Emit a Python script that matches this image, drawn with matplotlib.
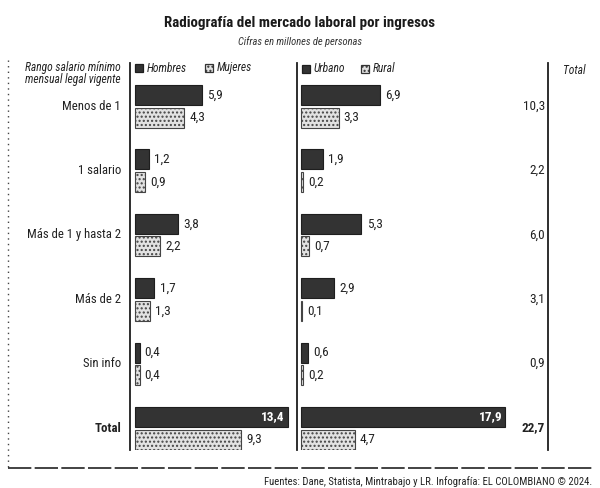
import matplotlib
matplotlib.use("Agg")
import matplotlib.pyplot as plt
from matplotlib.lines import Line2D
from matplotlib.patches import Rectangle
import matplotlib.transforms as mtransforms
from matplotlib import font_manager

# ---- data ----
categories = ["Menos de 1", "1 salario", "Más de 1 y hasta 2", "Más de 2", "Sin info", "Total"]
hombres = [5.9, 1.2, 3.8, 1.7, 0.4, 13.4]
mujeres = [4.3, 0.9, 2.2, 1.3, 0.4, 9.3]
urbano = [6.9, 1.9, 5.3, 2.9, 0.6, 17.9]
rural = [3.3, 0.2, 0.7, 0.1, 0.2, 4.7]
total = [10.3, 2.2, 6.0, 3.1, 0.9, 22.7]

# ---- font choice (prefer a narrow face) ----
names = {f.name for f in font_manager.fontManager.ttflist}
stretch = "normal"
if "Liberation Sans Narrow" in names:
    fam = "Liberation Sans Narrow"
elif "Roboto Condensed" in names:
    fam = "Roboto Condensed"
elif any(f.name == "DejaVu Sans" and f.stretch in ("condensed", 700) for f in font_manager.fontManager.ttflist):
    fam = "DejaVu Sans"
    stretch = "condensed"
else:
    fam = "Roboto"
plt.rcParams['font.family'] = [fam, 'DejaVu Sans']
plt.rcParams['font.stretch'] = stretch


def fmt(v):
    return f"{v:.1f}".replace(".", ",")


W, H = 600, 488
fig = plt.figure(figsize=(6, 4.88), dpi=100)
fig.patch.set_facecolor("white")
renderer = fig.canvas.get_renderer()


def fx(px):
    return px / W


def fy(py):
    return 1 - py / H


def fit(t, target_px):
    t.set_fontsize(10)
    w = t.get_window_extent(renderer).width
    size = 10 * target_px / w
    t.set_fontsize(size)
    return size


top_px, bot_px = 63, 450
unit_y = 64.4
y0_px = 106
ylim = ((bot_px - y0_px) / unit_y, (top_px - y0_px) / unit_y)
scale_x = 11.4

ax1 = fig.add_axes([fx(130), fy(bot_px), fx(166), (bot_px - top_px) / H])
ax2 = fig.add_axes([fx(297), fy(bot_px), fx(251), (bot_px - top_px) / H])
ax1.set_xlim(-5 / scale_x, (296 - 135) / scale_x)
ax2.set_xlim(-4 / scale_x, (548 - 301) / scale_x)

dark = "#333333"
light = "#e2e2e2"
off1, off2, bh = -0.17, 0.18, 0.31
ypos = list(range(len(categories)))

# size for value labels: fit "10,3" to ~22 px
probe = fig.text(0, 0, "10,3")
val_size = fit(probe, 22)
probe.remove()

for ax, a, b in [(ax1, hombres, mujeres), (ax2, urbano, rural)]:
    ax.set_ylim(*ylim)
    ax.barh([y + off1 for y in ypos], a, height=bh, left=0, color=dark,
            edgecolor="#1e1e1e", linewidth=0.8)
    ax.barh([y + off2 for y in ypos], b, height=bh, left=0, color=light,
            edgecolor="#444444", hatch="....", linewidth=0.8)
    for i, (va, vb) in enumerate(zip(a, b)):
        if i == len(a) - 1:
            ax.text(va - 0.25, i + off1, fmt(va), ha="right", va="center",
                    fontsize=val_size, color="white", fontweight="bold")
        else:
            ax.text(va + 0.45, i + off1, fmt(va), ha="left", va="center",
                    fontsize=val_size, color="#222222")
        ax.text(vb + 0.45, i + off2, fmt(vb), ha="left", va="center",
                fontsize=val_size, color="#222222")
    ax.set_xticks([])
    ax.set_yticks([])
    for s in ["top", "bottom", "right"]:
        ax.spines[s].set_visible(False)
    ax.spines["left"].set_linewidth(1.3)
    ax.spines["left"].set_color("#1e1e1e")
    ax.patch.set_alpha(0)

ax2.spines["right"].set_visible(True)
ax2.spines["right"].set_linewidth(1.3)
ax2.spines["right"].set_color("#1e1e1e")

# category labels
probe = fig.text(0, 0, "Menos de 1")
cat_size = fit(probe, 58)
probe.remove()
trans_lab = mtransforms.blended_transform_factory(fig.transFigure, ax1.transData)
for i, c in enumerate(categories):
    ax1.text(fx(121), i, c, transform=trans_lab, ha="right", va="center",
             fontsize=cat_size, color="#222222",
             fontweight="bold" if c == "Total" else "normal")

# total column
trans_tot = mtransforms.blended_transform_factory(fig.transFigure, ax2.transData)
for i, v in enumerate(total):
    ax2.text(fx(545), i, fmt(v), transform=trans_tot, ha="right", va="center",
             fontsize=val_size, color="#222222",
             fontweight="bold" if i == len(total) - 1 else "normal")

# titles
t = fig.text(fx(300), fy(23), "Radiografía del mercado laboral por ingresos", ha="center",
             va="center", fontweight="bold", color="#1a1a1a")
fit(t, 272)
t = fig.text(fx(300), fy(42), "Cifras en millones de personas", ha="center", va="center",
             style="italic", color="#333333")
fit(t, 124)

# header row
t1 = fig.text(fx(25), fy(67), "Rango salario mínimo", ha="left", va="center",
              style="italic", color="#222222")
hs = fit(t1, 96)
fig.text(fx(25), fy(80), "mensual legal vigente", ha="left", va="center",
         style="italic", color="#222222", fontsize=hs)


def legend_item(x_px, y_px, label, fc, ec, hatch):
    r = Rectangle((fx(x_px), fy(y_px + 4)), fx(8), 8 / H, transform=fig.transFigure,
                  facecolor=fc, edgecolor=ec, hatch=hatch, linewidth=0.9)
    fig.add_artist(r)
    fig.text(fx(x_px + 12), fy(y_px), label, ha="left", va="center", fontsize=hs,
             style="italic", color="#222222")


legend_item(135, 68, "Hombres", dark, "#1e1e1e", None)
legend_item(205, 68, "Mujeres", light, "#333333", "....")
legend_item(302, 69, "Urbano", dark, "#1e1e1e", None)
legend_item(361, 69, "Rural", light, "#333333", "....")
fig.text(fx(563), fy(70), "Total", ha="left", va="center", fontsize=hs,
         style="italic", color="#222222")

# frame lines
fig.add_artist(Line2D([fx(8), fx(8)], [fy(60), fy(468)], transform=fig.transFigure,
                      color="#444444", lw=1.0, linestyle=(0, (1, 3))))
fig.add_artist(Line2D([fx(8), fx(594)], [fy(468), fy(468)], transform=fig.transFigure,
                      color="#222222", lw=1.2, linestyle=(0, (14, 2))))

t = fig.text(fx(592), fy(482), "Fuentes: Dane, Statista, Mintrabajo y LR. Infografía: EL COLOMBIANO © 2024.",
             ha="right", va="center", color="#222222")
fit(t, 325)

fig.savefig("out.png", dpi=100)
